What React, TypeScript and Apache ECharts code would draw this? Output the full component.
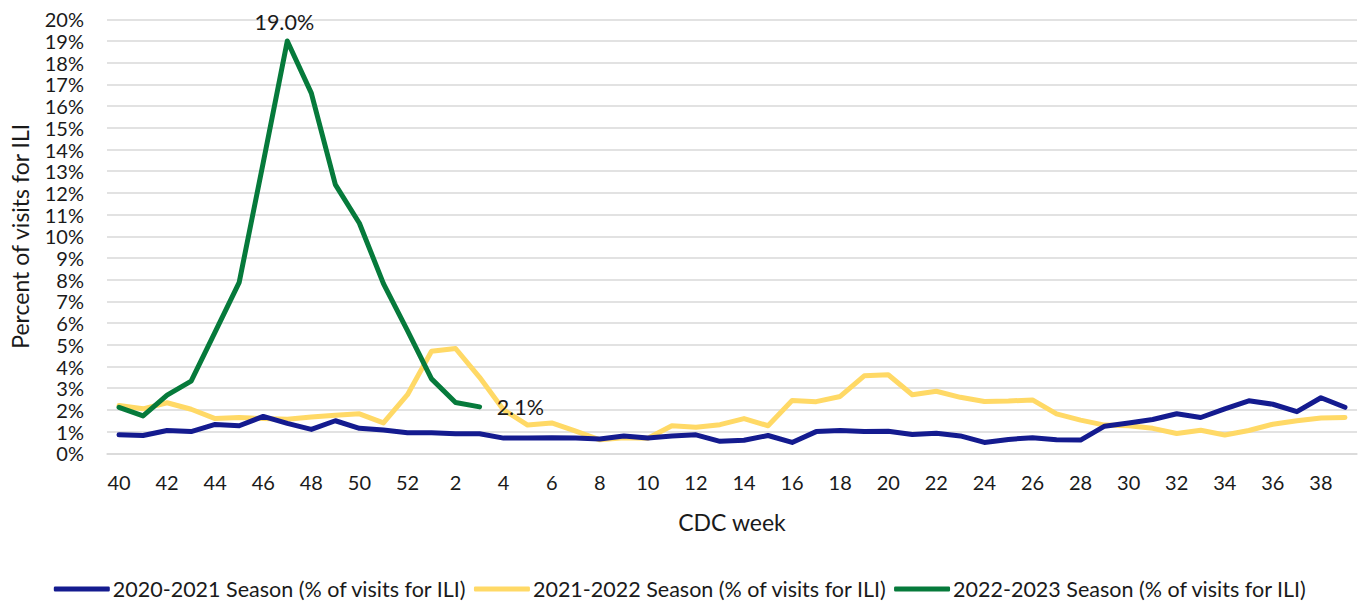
import React, { useEffect, useRef } from "react";
import * as echarts from "echarts";

const weeks: string[] = [
  "40","41","42","43","44","45","46","47","48","49","50","51","52",
  "1","2","3","4","5","6","7","8","9","10","11","12","13","14","15","16","17","18","19","20",
  "21","22","23","24","25","26","27","28","29","30","31","32","33","34","35","36","37","38","39",
];

const season2020: number[] = [
  0.85, 0.82, 1.05, 1.0, 1.33, 1.27, 1.7, 1.38, 1.1, 1.5, 1.15, 1.07, 0.95,
  0.95, 0.9, 0.9, 0.7, 0.7, 0.72, 0.7, 0.66, 0.8, 0.7, 0.8, 0.85, 0.55,
  0.6, 0.82, 0.5, 1.0, 1.05, 1.0, 1.02, 0.87, 0.92, 0.8, 0.5, 0.64, 0.72,
  0.62, 0.61, 1.25, 1.4, 1.56, 1.82, 1.65, 2.05, 2.42, 2.26, 1.92, 2.56, 2.12,
];

const season2021: number[] = [
  2.2, 2.05, 2.33, 2.03, 1.6, 1.65, 1.6, 1.57, 1.67, 1.75, 1.82, 1.4, 2.7,
  4.7, 4.83, 3.5, 2.0, 1.3, 1.4, 1.02, 0.62, 0.72, 0.69, 1.27, 1.2, 1.32,
  1.6, 1.27, 2.43, 2.38, 2.62, 3.57, 3.62, 2.7, 2.86, 2.58, 2.39, 2.41, 2.46,
  1.82, 1.53, 1.3, 1.27, 1.15, 0.91, 1.06, 0.84, 1.05, 1.34, 1.5, 1.63, 1.65,
];

const season2022: (number | null)[] = [
  2.12, 1.72, 2.68, 3.33, 5.6, 7.88, 13.4, 19.0, 16.6, 12.38, 10.6, 7.82, 5.65,
  3.43, 2.34, 2.14,
];

const yTicks: number[] = [0, 20, 1];

const seriesNames: string[] = [
  "2020-2021 Season (% of visits for ILI)",
  "2021-2022 Season (% of visits for ILI)",
  "2022-2023 Season (% of visits for ILI)",
];

const FONT = "Lato, 'Open Sans', sans-serif";
const TXT = "#1a1a1a";

export default function App() {
  const ref = useRef<HTMLDivElement>(null);
  useEffect(() => {
    if (!ref.current) return;
    const chart = echarts.init(ref.current, undefined, { renderer: "svg" });
    const greenData = season2022.map((v, i) => {
      if (i === 7) {
        return {
          value: v,
          label: { show: true, position: "top", distance: 8, offset: [-3, 0] },
        };
      }
      if (i === season2022.length - 1) {
        return {
          value: v,
          label: { show: true, position: "right", distance: 17 },
        };
      }
      return v;
    });
    chart.setOption({
      animation: false,
      textStyle: { fontFamily: FONT },
      grid: { left: 105, right: 4, top: 19.3, bottom: 153.7, containLabel: false },
      legend: {
        bottom: 2,
        left: "center",
        itemWidth: 56,
        itemHeight: 5,
        itemGap: 7,
        icon: "roundRect",
        textStyle: { fontSize: 21.5, color: TXT, fontFamily: FONT, padding: [0, 0, 0, -2] },
        data: seriesNames,
      },
      xAxis: {
        type: "category",
        data: weeks,
        boundaryGap: true,
        name: "CDC week",
        nameLocation: "middle",
        nameGap: 57,
        nameTextStyle: { fontSize: 23, color: TXT, fontFamily: FONT },
        axisLine: { show: true, lineStyle: { color: "#d9d9d9", width: 1.5 } },
        axisTick: { show: false },
        axisLabel: { interval: 1, fontSize: 20, color: TXT, margin: 19, fontFamily: FONT },
        splitLine: { show: false },
      },
      yAxis: {
        type: "value",
        min: yTicks[0],
        max: yTicks[1],
        interval: yTicks[2],
        name: "Percent of visits for ILI",
        nameLocation: "middle",
        nameGap: 76,
        nameTextStyle: { fontSize: 23, color: TXT, fontFamily: FONT },
        axisLine: { show: false },
        axisTick: { show: false },
        axisLabel: { formatter: "{value}%", fontSize: 20, color: TXT, margin: 23, fontFamily: FONT },
        splitLine: { show: true, lineStyle: { color: "#d9d9d9", width: 1.5 } },
      },
      series: [
        {
          name: seriesNames[0],
          type: "line",
          data: season2020,
          showSymbol: false,
          symbol: "none",
          lineStyle: { color: "#141B8F", width: 5, cap: "round", join: "round" },
          itemStyle: { color: "#141B8F" },
          z: 3,
        },
        {
          name: seriesNames[1],
          type: "line",
          data: season2021,
          showSymbol: false,
          symbol: "none",
          lineStyle: { color: "#FFD966", width: 5, cap: "round", join: "round" },
          itemStyle: { color: "#FFD966" },
          z: 2,
        },
        {
          name: seriesNames[2],
          type: "line",
          data: greenData,
          showSymbol: true,
          symbol: "circle",
          symbolSize: 0.1,
          lineStyle: { color: "#067A3B", width: 5, cap: "round", join: "round" },
          itemStyle: { color: "#067A3B" },
          label: {
            show: false,
            fontSize: 21.5,
            color: TXT,
            fontFamily: FONT,
            formatter: (p: any) => Number(p.value).toFixed(1) + "%",
          },
          z: 4,
        },
      ],
    });
    return () => chart.dispose();
  }, []);
  return (
    <div
      ref={ref}
      style={{ position: "fixed", left: 0, top: 0, width: 1361, height: 607, background: "#fff" }}
    />
  );
}
